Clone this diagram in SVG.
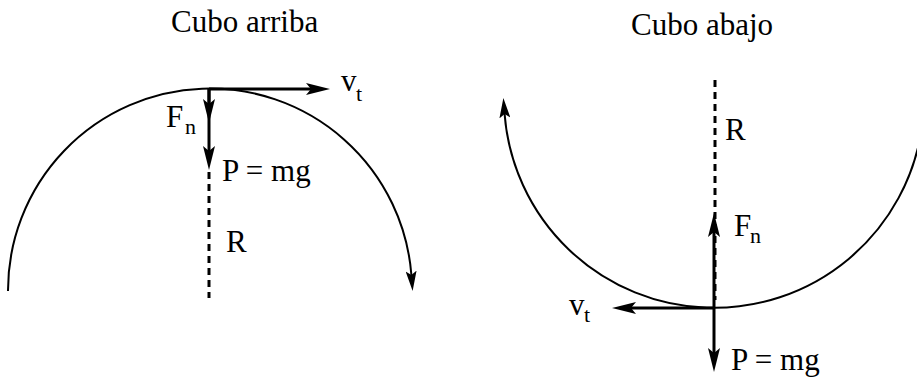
<svg xmlns="http://www.w3.org/2000/svg" width="917" height="380" viewBox="0 0 917 380">
<style>
.arc{fill:none;stroke:#000;stroke-width:2}
.vec{fill:none;stroke:#000;stroke-width:3}
.dash{fill:none;stroke:#000;stroke-width:3;stroke-dasharray:7 5}
</style>
<defs>
<marker id="vhead" viewBox="0 0 24 12" refX="5" refY="6" markerWidth="24" markerHeight="12" markerUnits="userSpaceOnUse" orient="auto">
<path d="M0,0 L24,6 L0,12 L5,6 Z" fill="#000"/>
</marker>
<marker id="ahead" viewBox="0 0 20 11" refX="4" refY="5.5" markerWidth="20" markerHeight="11" markerUnits="userSpaceOnUse" orient="auto">
<path d="M0,0 L20,5.5 L0,11 L4,5.5 Z" fill="#000"/>
</marker>
</defs>
<rect width="917" height="380" fill="#fff"/>

<g font-family="'Liberation Serif', 'DejaVu Serif', serif" fill="#000">
<g id="titles" font-size="31">
<text x="171" y="32">Cubo arriba</text>
<text x="631" y="35">Cubo abajo</text>
</g>

<g id="left-labels">
<text x="341" y="91" font-size="31">v</text><text x="356" y="101" font-size="22">t</text>
<text x="166" y="127" font-size="31">F</text><text x="185" y="134" font-size="22">n</text>
<text x="222" y="181" font-size="31">P = mg</text>
<text x="226" y="252" font-size="31">R</text>
</g>

<g id="right-labels">
<text x="725" y="140" font-size="31">R</text>
<text x="734" y="236" font-size="31">F</text><text x="750" y="243" font-size="22">n</text>
<text x="569" y="315" font-size="31">v</text><text x="584" y="322" font-size="22">t</text>
<text x="731" y="370" font-size="31">P = mg</text>
</g>
</g>

<g id="connectors">
<path class="arc" d="M8,291 A202,202 0 0 1 411.4,275" marker-end="url(#ahead)"/>
<line class="dash" x1="209" y1="172" x2="209" y2="298"/>
<line class="vec" x1="209" y1="89" x2="311" y2="89" marker-end="url(#vhead)"/>
<line class="vec" x1="209" y1="89" x2="209" y2="151" marker-end="url(#vhead)"/>
<line class="vec" x1="209" y1="89" x2="209" y2="104" marker-end="url(#vhead)"/>

<path class="arc" d="M921.8,128 A210,210 0 0 1 504.6,114" marker-end="url(#ahead)"/>
<line class="dash" x1="715" y1="80" x2="715" y2="300"/>
<line class="vec" x1="714" y1="308" x2="714" y2="232" marker-end="url(#vhead)"/>
<line class="vec" x1="714" y1="308" x2="714" y2="353" marker-end="url(#vhead)"/>
<line class="vec" x1="714" y1="308" x2="631" y2="308" marker-end="url(#vhead)"/>
</g>
</svg>
